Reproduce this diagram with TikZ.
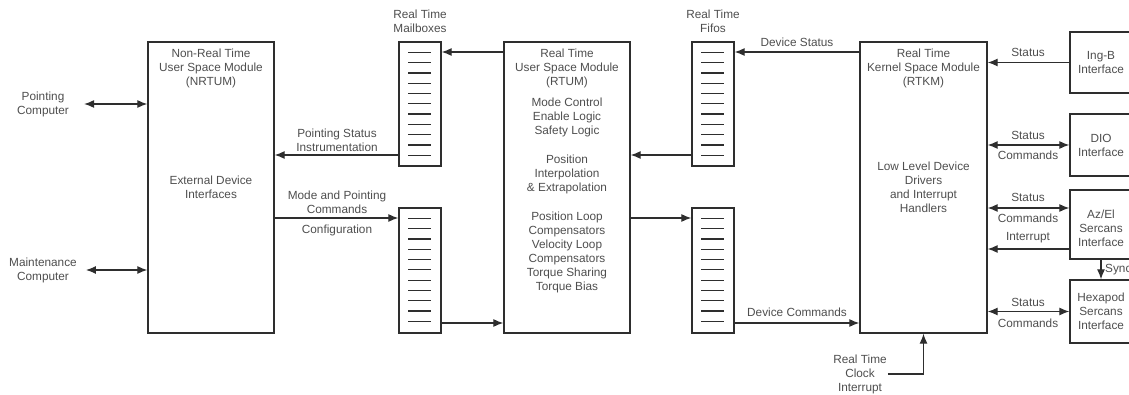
\documentclass[tikz,border=0pt]{standalone}
\usepackage{fontspec}
\setmainfont{Liberation Sans}
\usetikzlibrary{positioning,arrows.meta}
\definecolor{linegray}{HTML}{2E2E2E}
\definecolor{textgray}{HTML}{4E4E4E}
\tikzset{
  flowarrow/.style={-{Latex[length=10pt, width=8pt]}, draw=linegray, line width=1.2pt},
  duplex/.style={{Latex[length=10pt, width=8pt]}-{Latex[length=10pt, width=8pt]}, draw=linegray, line width=1.2pt},
  modbox/.style={draw=linegray, line width=1.3pt, minimum width=126pt, minimum height=291pt, inner sep=0pt},
  queuebox/.style={draw=linegray, line width=1.3pt, minimum width=42pt, minimum height=124pt, inner sep=0pt},
  ifbox/.style={draw=linegray, line width=1.3pt, minimum width=62pt, inner sep=0pt},
  slot/.style={draw=linegray, line width=1.3pt},
  txt/.style={text=textgray, align=center, inner sep=1pt, font=\fontsize{11.8}{14}\selectfont}
}
% eleven slots of a queue
\newcommand{\queueslots}[1]{%
  \foreach \k in {0,...,10}
    \draw[slot] ([xshift=10pt, yshift={-(11+10.3*\k)*1pt}]#1.north west) -- ++(23,0);}

\begin{document}
\begin{tikzpicture}[x=1pt, y=-1pt]
  \useasboundingbox (0,0) rectangle (1129,395);

  % modules
  \node[modbox] (nrtum) at (211,187.5) {};
  \node[modbox] (rtum) at (567,187.5) {};
  \node[modbox, minimum width=127pt] (rtkm) at (923.5,187.5) {};

  % mailboxes and fifos
  \node[queuebox] (mbA) at (420,104) {};
  \node[queuebox, minimum height=125pt] (mbB) at (420,270.5) {};
  \node[queuebox] (ffA) at (713,104) {};
  \node[queuebox, minimum height=125pt] (ffB) at (713,270.5) {};
  \queueslots{mbA}
  \queueslots{mbB}
  \queueslots{ffA}
  \queueslots{ffB}
  \node[txt] (mblabel) at (420,21) {Real Time\\Mailboxes};
  \node[txt] (fflabel) at (713,21) {Real Time\\Fifos};

  % device interfaces
  \node[ifbox, minimum height=61pt] (ingb) at (1101,62.5) {};
  \node[ifbox, minimum height=62pt] (dio) at (1101,145) {};
  \node[ifbox, minimum height=69pt] (azel) at (1101,224.5) {};
  \node[ifbox, minimum height=63pt] (hexa) at (1101,311.5) {};
  \node[txt] at (ingb) {Ing-B\\Interface};
  \node[txt] at (dio) {DIO\\Interface};
  \node[txt] at (1101,228) {Az/El\\Sercans\\Interface};
  \node[txt] at (hexa) {Hexapod\\Sercans\\Interface};

  % module texts
  \node[txt] at (211,68.5) {Non-Real Time\\User Space Module\\(NRTUM)};
  \node[txt] at (211,187) {External Device\\Interfaces};
  \node[txt] at (567,68) {Real Time\\User Space Module\\(RTUM)};
  \node[txt] at (567,117) {Mode Control\\Enable Logic\\Safety Logic};
  \node[txt] at (567,174) {Position\\Interpolation\\\& Extrapolation};
  \node[txt] at (567,252) {Position Loop\\Compensators\\Velocity Loop\\Compensators\\Torque Sharing\\Torque Bias};
  \node[txt] at (923.5,68.5) {Real Time\\Kernel Space Module\\(RTKM)};
  \node[txt] at (923.5,187) {Low Level Device\\Drivers\\and Interrupt\\Handlers};

  % outside computers
  \node[txt] (pc) at (43,104) {Pointing\\Computer};
  \node[txt] (mc) at (43,270) {Maintenance\\Computer};
  \draw[duplex] ([xshift=14pt]pc.east) -- ([yshift=83.5pt]nrtum.west);
  \draw[duplex] ([xshift=8pt]mc.east) -- ([yshift=-82.5pt]nrtum.west);

  % NRTUM <-> mailboxes <-> RTUM
  \draw[flowarrow] ([yshift=-51pt]mbA.west) -- ([yshift=32.5pt]nrtum.east);
  \draw[flowarrow] ([yshift=-30.5pt]nrtum.east) -- ([yshift=52.5pt]mbB.west);
  \draw[flowarrow] ([yshift=135.5pt]rtum.west) -- ([yshift=52pt]mbA.east);
  \draw[flowarrow] ([yshift=-52.5pt]mbB.east) -- ([yshift=-135.5pt]rtum.west);
  \node[txt] at (337,140) {Pointing Status\\Instrumentation};
  \node[txt] at (337,202) {Mode and Pointing\\Commands};
  \node[txt] at (337,230) {Configuration};

  % RTUM <-> fifos <-> RTKM
  \draw[flowarrow] ([yshift=-51pt]ffA.west) -- ([yshift=32.5pt]rtum.east);
  \draw[flowarrow] ([yshift=-30.5pt]rtum.east) -- ([yshift=52.5pt]ffB.west);
  \draw[flowarrow] ([yshift=135.5pt]rtkm.west) -- ([yshift=52pt]ffA.east);
  \draw[flowarrow] ([yshift=-52.5pt]ffB.east) -- ([yshift=-135.5pt]rtkm.west);
  \node[txt] at (797,42) {Device Status};
  \node[txt] at (797,312) {Device Commands};

  % RTKM <-> device interfaces
  \coordinate (azcmd) at ([yshift=16.5pt]azel.west);
  \coordinate (azint) at ([yshift=-24.5pt]azel.west);
  \draw[flowarrow] (ingb.west) -- (ingb.west -| rtkm.east);
  \draw[duplex] (dio.west -| rtkm.east) -- (dio.west);
  \draw[duplex] (azcmd -| rtkm.east) -- (azcmd);
  \draw[flowarrow] (azint) -- (azint -| rtkm.east);
  \draw[duplex] (hexa.west -| rtkm.east) -- (hexa.west);
  \draw[flowarrow] (azel.south) -- (hexa.north);
  \node[txt] at (1028,52) {Status};
  \node[txt] at (1028,135) {Status};
  \node[txt] at (1028,155) {Commands};
  \node[txt] at (1028,197) {Status};
  \node[txt] at (1028,218) {Commands};
  \node[txt] at (1028,238) {Interrupt};
  \node[txt] at (1028,302) {Status};
  \node[txt] at (1028,323) {Commands};
  \node[txt, anchor=west] (sync) at (1104,270) {Sync};

  % clock interrupt
  \node[txt] (clk) at (860,374) {Real Time\\Clock\\Interrupt};
  \draw[flowarrow] (clk.east) -| (rtkm.south);
\end{tikzpicture}
\end{document}
